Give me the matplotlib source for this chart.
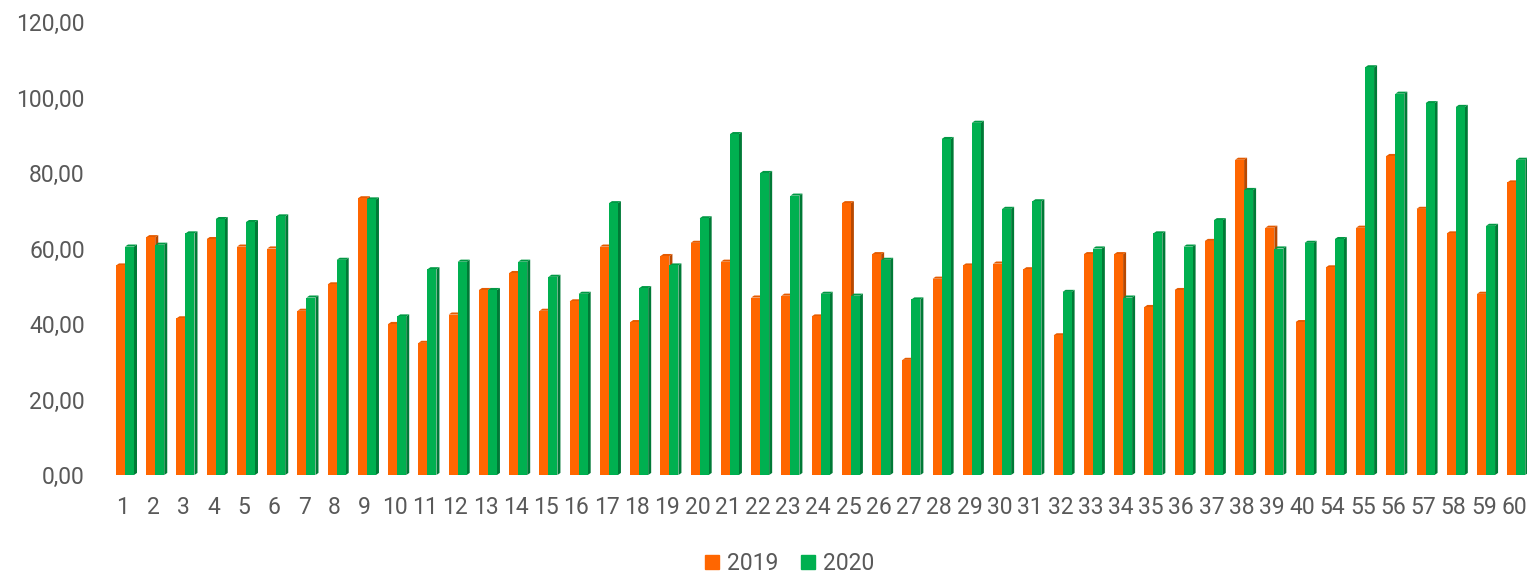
import matplotlib
matplotlib.use("Agg")
import matplotlib.pyplot as plt
from matplotlib.patches import Polygon
from matplotlib.lines import Line2D
from matplotlib.ticker import FuncFormatter, MultipleLocator

plt.rcParams['font.family'] = ['Roboto', 'DejaVu Sans']

# dane
labels = ['1', '2', '3', '4', '5', '6', '7', '8', '9', '10', '11', '12', '13', '14', '15',
          '16', '17', '18', '19', '20', '21', '22', '23', '24', '25', '26', '27', '28', '29',
          '30', '31', '32', '33', '34', '35', '36', '37', '38', '39', '40', '54', '55', '56',
          '57', '58', '59', '60']
v2019 = [55.5, 63.0, 41.5, 62.5, 60.5, 60.0, 43.5, 50.5, 73.3, 40.0, 35.0, 42.5, 49.0, 53.5,
         43.5, 46.0, 60.5, 40.5, 58.0, 61.5, 56.5, 47.0, 47.5, 42.0, 72.0, 58.5, 30.5, 52.0,
         55.5, 56.0, 54.5, 37.0, 58.5, 58.5, 44.5, 49.0, 62.0, 83.5, 65.5, 40.5, 55.0, 65.5,
         84.5, 70.5, 64.0, 48.0, 77.5]
v2020 = [60.5, 61.0, 64.0, 67.8, 67.0, 68.5, 47.0, 57.0, 73.0, 42.0, 54.5, 56.5, 49.0, 56.5,
         52.5, 48.0, 72.0, 49.5, 55.5, 68.0, 90.3, 80.0, 74.0, 48.0, 47.5, 57.0, 46.5, 89.0,
         93.3, 70.5, 72.5, 48.5, 60.0, 47.0, 64.0, 60.5, 67.5, 75.5, 60.0, 61.5, 62.5, 108.0,
         101.0, 98.5, 97.5, 66.0, 83.5]

kolory = {
    '2019': ('#FF6600', '#B84800', '#E55B00'),
    '2020': ('#00B050', '#007A36', '#009944'),
}

W = 1527
H = 575
fig = plt.figure(figsize=(W / 100, H / 100), dpi=100)
ax = fig.add_axes([100 / W, 100 / H, 1 - 100 / W, (475 - 22) / H])

krok = (1514 - 122.7) / 46   # px na kategorie
w = 9 / krok     # szerokosc przedniej sciany
d = 3 / krok     # glebokosc boku
dy = 0.55        # przesuniecie gory
off = -6.7 / krok


def slupek(x0, v, kol):
    front, bok, gora = kol
    ax.add_patch(Polygon([(x0 + w, 0), (x0 + w + d, dy), (x0 + w + d, v + dy), (x0 + w, v)],
                         closed=True, facecolor=bok, edgecolor='none'))
    ax.add_patch(Polygon([(x0, v), (x0 + w, v), (x0 + w + d, v + dy), (x0 + d, v + dy)],
                         closed=True, facecolor=gora, edgecolor='none'))
    ax.bar(x0, v, width=w, align='edge', color=front, linewidth=0)


for i in range(len(labels)):
    slupek(i + off, v2019[i], kolory['2019'])
    slupek(i + off + w, v2020[i], kolory['2020'])

ax.set_xlim((100 - 122.7) / krok, (1527 - 122.7) / krok)
ax.set_ylim(0, 120)
ax.set_xticks(range(len(labels)))
ax.set_xticklabels(labels)
ax.yaxis.set_major_locator(MultipleLocator(20))
ax.yaxis.set_major_formatter(FuncFormatter(lambda v, p: f"{v:.2f}".replace('.', ',')))

for s in ax.spines.values():
    s.set_visible(False)
ax.tick_params(axis='both', length=0, labelsize=16.5, colors='#595959')
ax.tick_params(axis='y', pad=11)
ax.tick_params(axis='x', pad=15)

uchwyty = [Line2D([], [], marker='s', linestyle='none', markersize=9.5,
                  color=kolory[k][0]) for k in kolory]
fig.legend(uchwyty, list(kolory.keys()), loc='center', bbox_to_anchor=(790 / W, 1 - 564 / H),
           ncol=2, frameon=False, fontsize=16.5, handlelength=0.6, handletextpad=0.35,
           columnspacing=1.0, labelcolor='#595959')

fig.savefig('out.png', dpi=100)
